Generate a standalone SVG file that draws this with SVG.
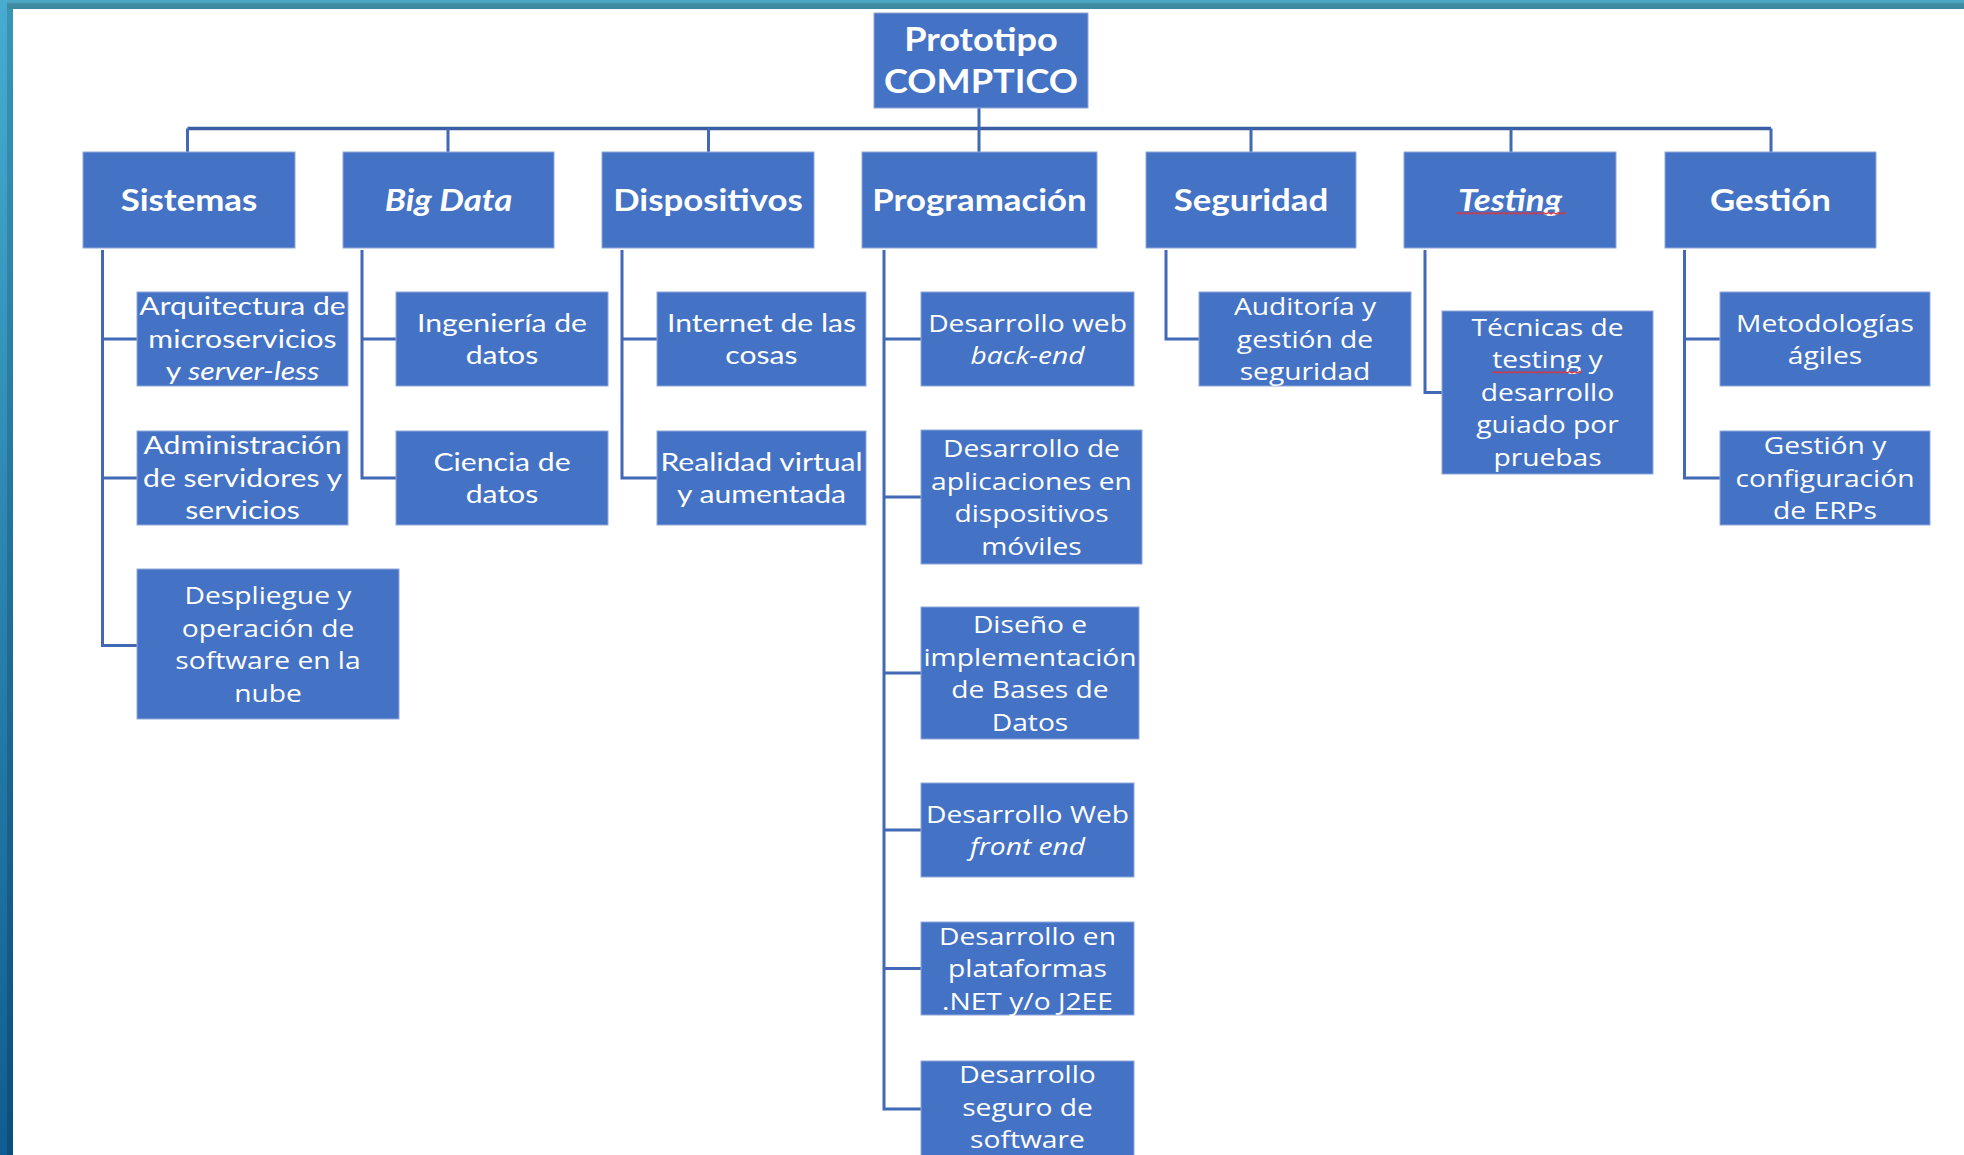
<svg xmlns="http://www.w3.org/2000/svg" width="1964" height="1155" viewBox="0 0 1964 1155">
<defs>
<linearGradient id="gTop" x1="0" y1="0" x2="0" y2="1">
<stop offset="0" stop-color="#4eaac6"/><stop offset="0.35" stop-color="#4aa0bb"/><stop offset="0.4" stop-color="#3f8ca3"/><stop offset="1" stop-color="#3c889f"/>
</linearGradient>
<linearGradient id="gLeftA" x1="0" y1="0" x2="0" y2="1">
<stop offset="0" stop-color="#47acd0"/><stop offset="0.5" stop-color="#2a84ad"/><stop offset="1" stop-color="#0f5d92"/>
</linearGradient>
<linearGradient id="gLeftB" x1="0" y1="0" x2="0" y2="1">
<stop offset="0" stop-color="#3a95b4"/><stop offset="0.5" stop-color="#226f98"/><stop offset="1" stop-color="#0d4d7a"/>
</linearGradient>
<style>
.b{fill:#4472c4;stroke:#8fa8da;stroke-width:1}
.con{fill:none;stroke:#4169b5;stroke-width:3}
.bus{fill:none;stroke:#3b5ea3;stroke-width:3.5}
.sq{fill:none;stroke:#e2333a;stroke-width:1.3}
text{fill:#ffffff;text-anchor:middle}
.root{font-family:Lato,"Liberation Sans",sans-serif;font-weight:700;font-size:32px}
.hd{font-family:Lato,"Liberation Sans",sans-serif;font-weight:700;font-size:30px}
.c{font-family:Lato,"Liberation Sans",sans-serif;font-size:24.5px}
.s{font-family:"Open Sans","Noto Sans","Liberation Sans",sans-serif;font-size:23.5px}
.i{font-style:italic}
</style>
</defs>
<rect x="0" y="0" width="1964" height="1155" fill="#ffffff"/>
<g id="frame">
<rect x="0" y="0" width="1964" height="9" fill="url(#gTop)"/>
<rect x="0" y="0" width="7" height="1155" fill="url(#gLeftA)"/>
<rect x="7" y="9" width="6" height="1146" fill="url(#gLeftB)"/>
</g>

<g id="connectors">
<path class="bus" d="M187.5 128.5 H1771"/>
<path class="con" d="M979 108 V152 M187.5 128.5 V152 M448 128.5 V152 M708.5 128.5 V152 M1251 128.5 V152 M1511 128.5 V152 M1771 128.5 V152"/>
<path class="con" d="M102.5 250 V645.5 H137 M102.5 339 H137 M102.5 478 H137"/>
<path class="con" d="M362 250 V478 H396 M362 339 H396"/>
<path class="con" d="M622 250 V478 H657 M622 339 H657"/>
<path class="con" d="M884 250 V1109 H921 M884 339 H921 M884 497 H921 M884 673 H921 M884 830 H921 M884 968.5 H921"/>
<path class="con" d="M1166 250 V339 H1199"/>
<path class="con" d="M1425 250 V392.5 H1442"/>
<path class="con" d="M1684.5 250 V478 H1720 M1684.5 339 H1720"/>
</g>

<g id="n-root">
<rect class="b" x="874" y="13" width="214" height="95"/>
<g transform="translate(981 0) scale(1.13 1)"><text class="root"><tspan x="0" y="51">Prototipo</tspan><tspan x="0" y="93">COMPTICO</tspan></text></g>
</g>

<g id="n-sistemas">
<rect class="b" x="83" y="152" width="212" height="96"/>
<g transform="translate(189 0) scale(1.16 1)"><text class="hd" y="211" x="0">Sistemas</text></g>
</g>
<g id="n-bigdata">
<rect class="b" x="343" y="152" width="211" height="96"/>
<g transform="translate(448.5 0) scale(1.16 1)"><text class="hd i" y="211" x="0">Big Data</text></g>
</g>
<g id="n-dispositivos">
<rect class="b" x="602" y="152" width="212" height="96"/>
<g transform="translate(708 0) scale(1.16 1)"><text class="hd" y="211" x="0">Dispositivos</text></g>
</g>
<g id="n-programacion">
<rect class="b" x="862" y="152" width="235" height="96"/>
<g transform="translate(979.5 0) scale(1.16 1)"><text class="hd" y="211" x="0">Programación</text></g>
</g>
<g id="n-seguridad">
<rect class="b" x="1146" y="152" width="210" height="96"/>
<g transform="translate(1251 0) scale(1.16 1)"><text class="hd" y="211" x="0">Seguridad</text></g>
</g>
<g id="n-testing">
<rect class="b" x="1404" y="152" width="212" height="96"/>
<g transform="translate(1510 0) scale(1.16 1)"><text class="hd i" y="211" x="0">Testing</text></g>
<path class="sq" d="M1456 214 l2.5 -1.6 l2.5 1.6 l2.5 -1.6 l2.5 1.6 l2.5 -1.6 l2.5 1.6 l2.5 -1.6 l2.5 1.6 l2.5 -1.6 l2.5 1.6 l2.5 -1.6 l2.5 1.6 l2.5 -1.6 l2.5 1.6 l2.5 -1.6 l2.5 1.6 l2.5 -1.6 l2.5 1.6 l2.5 -1.6 l2.5 1.6 l2.5 -1.6 l2.5 1.6 l2.5 -1.6 l2.5 1.6 l2.5 -1.6 l2.5 1.6 l2.5 -1.6 l2.5 1.6 l2.5 -1.6 l2.5 1.6 l2.5 -1.6 l2.5 1.6 l2.5 -1.6 l2.5 1.6 l2.5 -1.6 l2.5 1.6 l2.5 -1.6 l2.5 1.6 l2.5 -1.6 l2.5 1.6 l2.5 -1.6 l2.5 1.6 l2.5 -1.6 l2.5 1.6"/>
</g>
<g id="n-gestion">
<rect class="b" x="1665" y="152" width="211" height="96"/>
<g transform="translate(1770.5 0) scale(1.16 1)"><text class="hd" y="211" x="0">Gestión</text></g>
</g>

<g id="n-arquitectura">
<rect class="b" x="137" y="292" width="211" height="94"/>
<g transform="translate(242.5 0) scale(1.23 1)"><text class="c"><tspan x="0" y="315.5">Arquitectura de</tspan><tspan x="0" y="348">microservicios</tspan><tspan x="0" y="380.5">y <tspan class="i">server-less</tspan></tspan></text></g>
</g>
<g id="n-administracion">
<rect class="b" x="137" y="431" width="211" height="94"/>
<g transform="translate(242.5 0) scale(1.23 1)"><text class="c"><tspan x="0" y="454.5">Administración</tspan><tspan x="0" y="487">de servidores y</tspan><tspan x="0" y="519.5">servicios</tspan></text></g>
</g>
<g id="n-despliegue">
<rect class="b" x="137" y="569" width="262" height="150"/>
<g transform="translate(268 0) scale(1.2 1)"><text class="s"><tspan x="0" y="604.3">Despliegue y</tspan><tspan x="0" y="636.8">operación de</tspan><tspan x="0" y="669.3">software en la</tspan><tspan x="0" y="701.8">nube</tspan></text></g>
</g>

<g id="n-ingenieria">
<rect class="b" x="396" y="292" width="212" height="94"/>
<g transform="translate(502 0) scale(1.23 1)"><text class="c"><tspan x="0" y="331.8">Ingeniería de</tspan><tspan x="0" y="364.3">datos</tspan></text></g>
</g>
<g id="n-ciencia">
<rect class="b" x="396" y="431" width="212" height="94"/>
<g transform="translate(502 0) scale(1.23 1)"><text class="c"><tspan x="0" y="470.8">Ciencia de</tspan><tspan x="0" y="503.3">datos</tspan></text></g>
</g>

<g id="n-iot">
<rect class="b" x="657" y="292" width="209" height="94"/>
<g transform="translate(761.5 0) scale(1.23 1)"><text class="c"><tspan x="0" y="331.8">Internet de las</tspan><tspan x="0" y="364.3">cosas</tspan></text></g>
</g>
<g id="n-realidad">
<rect class="b" x="657" y="431" width="209" height="94"/>
<g transform="translate(761.5 0) scale(1.23 1)"><text class="c"><tspan x="0" y="470.8">Realidad virtual</tspan><tspan x="0" y="503.3">y aumentada</tspan></text></g>
</g>

<g id="n-backend">
<rect class="b" x="921" y="292" width="213" height="94"/>
<g transform="translate(1027.5 0) scale(1.2 1)"><text class="s"><tspan x="0" y="331.8">Desarrollo web</tspan><tspan x="0" y="364.3" class="i">back-end</tspan></text></g>
</g>
<g id="n-moviles">
<rect class="b" x="921" y="430" width="221" height="134"/>
<g transform="translate(1031.5 0) scale(1.2 1)"><text class="s"><tspan x="0" y="457.3">Desarrollo de</tspan><tspan x="0" y="489.8">aplicaciones en</tspan><tspan x="0" y="522.3">dispositivos</tspan><tspan x="0" y="554.8">móviles</tspan></text></g>
</g>
<g id="n-bases">
<rect class="b" x="921" y="607" width="218" height="132"/>
<g transform="translate(1030 0) scale(1.2 1)"><text class="s"><tspan x="0" y="633.3">Diseño e</tspan><tspan x="0" y="665.8">implementación</tspan><tspan x="0" y="698.3">de Bases de</tspan><tspan x="0" y="730.8">Datos</tspan></text></g>
</g>
<g id="n-frontend">
<rect class="b" x="921" y="783" width="213" height="94"/>
<g transform="translate(1027.5 0) scale(1.2 1)"><text class="s"><tspan x="0" y="822.8">Desarrollo Web</tspan><tspan x="0" y="855.3" class="i">front end</tspan></text></g>
</g>
<g id="n-plataformas">
<rect class="b" x="921" y="922" width="213" height="93"/>
<g transform="translate(1027.5 0) scale(1.2 1)"><text class="s"><tspan x="0" y="945">Desarrollo en</tspan><tspan x="0" y="977.5">plataformas</tspan><tspan x="0" y="1010">.NET y/o J2EE</tspan></text></g>
</g>
<g id="n-seguro">
<rect class="b" x="921" y="1061" width="213" height="96"/>
<g transform="translate(1027.5 0) scale(1.2 1)"><text class="s"><tspan x="0" y="1083.5">Desarrollo</tspan><tspan x="0" y="1116">seguro de</tspan><tspan x="0" y="1148.5">software</tspan></text></g>
</g>

<g id="n-auditoria">
<rect class="b" x="1199" y="292" width="212" height="94"/>
<g transform="translate(1305 0) scale(1.2 1)"><text class="s"><tspan x="0" y="315.5">Auditoría y</tspan><tspan x="0" y="348">gestión de</tspan><tspan x="0" y="380.5">seguridad</tspan></text></g>
</g>

<g id="n-tecnicas">
<rect class="b" x="1442" y="311" width="211" height="163"/>
<g transform="translate(1547.5 0) scale(1.2 1)"><text class="s"><tspan x="0" y="336">Técnicas de</tspan><tspan x="0" y="368.5">testing y</tspan><tspan x="0" y="401">desarrollo</tspan><tspan x="0" y="433.5">guiado por</tspan><tspan x="0" y="466">pruebas</tspan></text></g>
<path class="sq" d="M1492 373 l2.5 -1.6 l2.5 1.6 l2.5 -1.6 l2.5 1.6 l2.5 -1.6 l2.5 1.6 l2.5 -1.6 l2.5 1.6 l2.5 -1.6 l2.5 1.6 l2.5 -1.6 l2.5 1.6 l2.5 -1.6 l2.5 1.6 l2.5 -1.6 l2.5 1.6 l2.5 -1.6 l2.5 1.6 l2.5 -1.6 l2.5 1.6 l2.5 -1.6 l2.5 1.6 l2.5 -1.6 l2.5 1.6 l2.5 -1.6 l2.5 1.6 l2.5 -1.6 l2.5 1.6 l2.5 -1.6 l2.5 1.6 l2.5 -1.6 l2.5 1.6 l2.5 -1.6 l2.5 1.6 l2.5 -1.6 l2.5 1.6"/>
</g>

<g id="n-agiles">
<rect class="b" x="1720" y="292" width="210" height="94"/>
<g transform="translate(1825 0) scale(1.2 1)"><text class="s"><tspan x="0" y="331.8">Metodologías</tspan><tspan x="0" y="364.3">ágiles</tspan></text></g>
</g>
<g id="n-erps">
<rect class="b" x="1720" y="431" width="210" height="94"/>
<g transform="translate(1825 0) scale(1.2 1)"><text class="s"><tspan x="0" y="454.5">Gestión y</tspan><tspan x="0" y="487">configuración</tspan><tspan x="0" y="519.5">de ERPs</tspan></text></g>
</g>
</svg>
